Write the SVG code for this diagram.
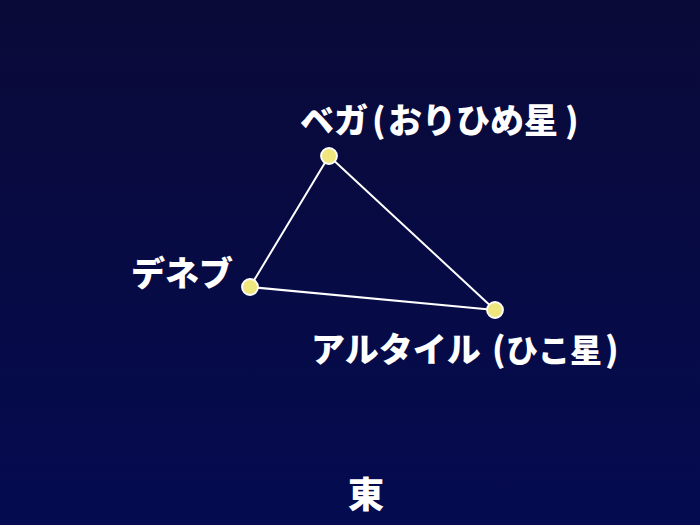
<svg xmlns="http://www.w3.org/2000/svg" width="700" height="525" viewBox="0 0 700 525">
<defs>
<linearGradient id="bg" x1="0" y1="0" x2="0" y2="1">
<stop offset="0" stop-color="#0a0a38"/>
<stop offset="1" stop-color="#040b50"/>
</linearGradient>
</defs>
<style>
.lbl{font-family:"Noto Sans CJK JP","Noto Sans CJK SC",sans-serif;font-weight:900;fill:#ffffff;font-size:34px}
.star{fill:#f0e67e;stroke:#ffffff;stroke-width:1.8}
.edge{stroke:#ffffff;stroke-width:2;fill:none}
</style>
<rect width="700" height="525" fill="url(#bg)"/>
<g id="connectors">
<line class="edge" x1="329" y1="156" x2="250" y2="287"/>
<line class="edge" x1="250" y1="287" x2="495" y2="310"/>
<line class="edge" x1="329" y1="156" x2="495" y2="310"/>
</g>
<g id="vega">
<circle class="star" cx="329" cy="156" r="8"/>
<text class="lbl" y="133"><tspan x="300">ベガ</tspan><tspan x="372">(</tspan><tspan x="388">おりひめ星</tspan><tspan x="565">)</tspan></text>
</g>
<g id="deneb">
<circle class="star" cx="250" cy="287" r="8"/>
<text class="lbl" x="131" y="286">デネブ</text>
</g>
<g id="altair">
<circle class="star" cx="495" cy="310" r="8"/>
<text class="lbl" y="362"><tspan x="311">アルタイル</tspan><tspan x="492">(</tspan><tspan x="506" style="font-size:32px">ひこ星</tspan><tspan x="605">)</tspan></text>
</g>
<g id="east">
<text class="lbl" x="366" y="508" text-anchor="middle" style="font-size:36px">東</text>
</g>
</svg>
